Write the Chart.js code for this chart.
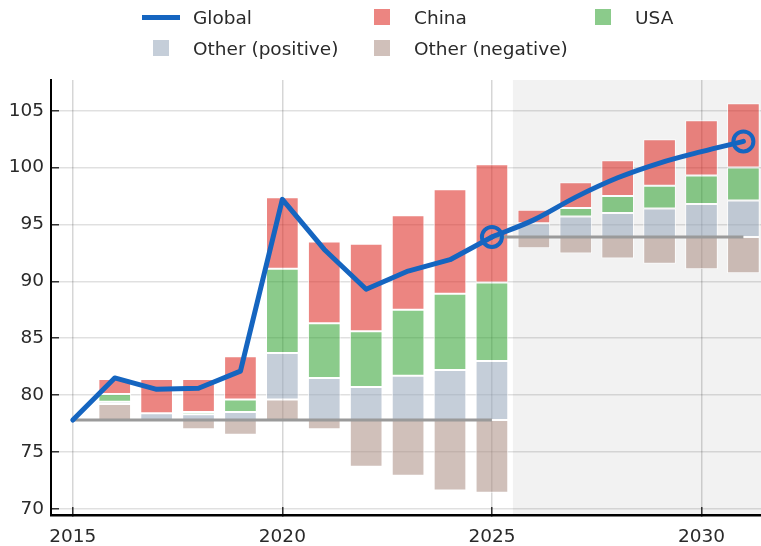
<!DOCTYPE html>
<html>
<head>
<meta charset="utf-8">
<script src="https://cdn.jsdelivr.net/npm/chart.js@4.4.1/dist/chart.umd.min.js"></script>
<style>
  html, body { margin: 0; padding: 0; background: #fff; }
  #wrap { position: relative; width: 761px; height: 546px; font-family: "DejaVu Sans", Verdana, sans-serif; }
  #legend { position: absolute; left: 142px; top: 6px; display: grid; grid-template-columns: 221px 221px 140px; row-gap: 9px; }
  .item { display: flex; align-items: center; height: 22px; font-size: 18.5px; color: #2a2a2a; white-space: nowrap; }
  .sym { width: 38px; display: flex; justify-content: center; margin-right: 13px; }
  .sym .line { width: 38px; height: 5px; }
  .sym .box { width: 16px; height: 16px; }
</style>
</head>
<body>
<div id="wrap">
  <canvas id="chart" width="761" height="546"></canvas>
  <div id="legend"></div>
</div>
<script>
const years = [2015, 2016, 2017, 2018, 2019, 2020, 2021, 2022, 2023, 2024, 2025, 2026, 2027, 2028, 2029, 2030, 2031];
const globalIndex = [77.8, 81.5, 80.5, 80.6, 82.1, 97.2, 92.8, 89.3, 90.9, 91.9, 93.9, 95.4, 97.4, 99.1, 100.4, 101.4, 102.3];
const baseline = [77.8, 77.8, 77.8, 77.8, 77.8, 77.8, 77.8, 77.8, 77.8, 77.8, 77.8, 93.9, 93.9, 93.9, 93.9, 93.9, 93.9];
// contributions relative to the baseline of each year
const china = [0, 1.3, 3.0, 2.9, 3.8, 6.3, 7.2, 7.7, 8.3, 9.2, 10.4, 1.2, 2.25, 3.15, 4.1, 4.85, 5.65];
const usa = [0, 0.7, 0, 0.2, 1.1, 7.4, 4.8, 4.9, 5.8, 6.7, 6.9, 0, 0.75, 1.5, 2.0, 2.5, 2.9];
const otherPos = [0, 0.2, 0.6, 0.5, 0.7, 4.1, 3.7, 2.9, 3.9, 4.4, 5.2, 1.2, 1.8, 2.1, 2.5, 2.9, 3.2];
const otherNeg = [0, 1.4, 0, -0.8, -1.3, 1.8, -0.8, -4.1, -4.9, -6.2, -6.4, -1.0, -1.45, -1.9, -2.35, -2.85, -3.2];
const xTicks = [2015, 2020, 2025, 2030];
const yTicks = [70, 75, 80, 85, 90, 95, 100, 105];
const lastActual = 2025;
const projStart = 2025.5;

const blue = '#1565c0';
const colChina = 'rgba(222, 45, 38, 0.58)';
const colUsa = 'rgba(44, 160, 44, 0.55)';
const colPos = 'rgba(150, 165, 185, 0.55)';
const colNeg = 'rgba(170, 140, 130, 0.55)';
const font = { family: '"DejaVu Sans", Verdana, sans-serif', size: 18.5 };

// relative stacking: positives go up from the baseline, negatives go down
const parts = [otherNeg, otherPos, usa, china];
const ranges = parts.map(() => []);
years.forEach((yr, i) => {
  let up = baseline[i], down = baseline[i];
  parts.forEach((vals, k) => {
    const v = vals[i];
    if (v > 0) { ranges[k].push({ x: yr, y: [up, up + v] }); up += v; }
    else if (v < 0) { ranges[k].push({ x: yr, y: [down + v, down] }); down += v; }
  });
});

const split = years.indexOf(lastActual);
const histPts = years.slice(0, split + 1).map((x, i) => ({ x, y: globalIndex[i] }));
const projPts = years.slice(split).map((x, i) => ({ x, y: globalIndex[split + i] }));
const ringAtEnd = pts => pts.map((_, i) => (i === pts.length - 1 ? 10 : 0));

const barStyle = (label, color, data) => ({
  type: 'bar', label, data, backgroundColor: color,
  borderColor: 'rgba(255,255,255,0.75)', borderWidth: 1, borderSkipped: false,
  grouped: false, barPercentage: 0.78, categoryPercentage: 1
});
const lineStyle = (label, data, tension) => ({
  type: 'line', label, data, borderColor: blue, borderWidth: 5, tension,
  borderCapStyle: 'round', borderJoinStyle: 'round',
  pointRadius: ringAtEnd(data), pointBorderWidth: 4, pointBorderColor: blue,
  pointBackgroundColor: 'rgba(0,0,0,0)'
});

// grey band behind the projected years
const shade = {
  id: 'shade',
  beforeDraw(chart) {
    const { ctx, chartArea, scales } = chart;
    const x0 = scales.x.getPixelForValue(projStart);
    ctx.save();
    ctx.fillStyle = '#f2f2f2';
    ctx.fillRect(x0, chartArea.top, chartArea.right - x0, chartArea.bottom - chartArea.top);
    ctx.restore();
  }
};

const chart = new Chart(document.getElementById('chart'), {
  type: 'bar',
  data: {
    datasets: [
      lineStyle('Global', histPts, 0),
      lineStyle('Global (projection)', projPts, 0.35),
      { type: 'line', label: 'base1', data: [{ x: years[0], y: baseline[0] }, { x: years[split], y: baseline[split] }],
        borderColor: '#9a9a9a', borderWidth: 3, pointRadius: 0 },
      { type: 'line', label: 'base2', data: [{ x: years[split], y: baseline[split + 1] }, { x: years[years.length - 1], y: baseline[years.length - 1] }],
        borderColor: '#9a9a9a', borderWidth: 3, pointRadius: 0 },
      barStyle('China', colChina, ranges[3]),
      barStyle('USA', colUsa, ranges[2]),
      barStyle('Other (positive)', colPos, ranges[1]),
      barStyle('Other (negative)', colNeg, ranges[0])
    ]
  },
  options: {
    responsive: false,
    animation: false,
    devicePixelRatio: 1,
    layout: { autoPadding: false, padding: { top: 80, left: 0, right: 0, bottom: 0 } },
    plugins: { legend: { display: false }, tooltip: { enabled: false } },
    scales: {
      x: {
        type: 'linear', min: 2014.48, max: 2031.42, offset: false,
        grid: { color: 'rgba(0,0,0,0.16)', lineWidth: 1.5, offset: false, tickLength: -8, tickColor: '#333', tickWidth: 1.5 },
        border: { color: '#000', width: 2.5 },
        afterBuildTicks: s => { s.ticks = xTicks.map(v => ({ value: v })); },
        afterFit: s => { s.height = 31; s.paddingLeft = 0; s.paddingRight = 0; },
        ticks: { font, color: '#2a2a2a', padding: 19, maxRotation: 0, callback: v => String(v) }
      },
      y: {
        min: 69.45, max: 107.7,
        grid: { color: 'rgba(0,0,0,0.12)', lineWidth: 1.5, tickLength: -8, tickColor: '#333', tickWidth: 1.5 },
        border: { color: '#000', width: 2 },
        afterBuildTicks: s => { s.ticks = yTicks.map(v => ({ value: v })); },
        afterFit: s => { s.width = 51; s.paddingTop = 0; s.paddingBottom = 0; },
        ticks: { font, color: '#2a2a2a', padding: 15 }
      }
    }
  },
  plugins: [shade]
});

// legend laid out in three columns like the original
const legendItems = [
  { label: 'Global', line: blue },
  { label: 'China', box: colChina },
  { label: 'USA', box: colUsa },
  { label: 'Other (positive)', box: colPos },
  { label: 'Other (negative)', box: colNeg }
];
const legend = document.getElementById('legend');
legendItems.forEach(it => {
  const el = document.createElement('div');
  el.className = 'item';
  const sym = it.line
    ? `<span class="line" style="background:${it.line}"></span>`
    : `<span class="box" style="background:${it.box}"></span>`;
  el.innerHTML = `<span class="sym">${sym}</span><span>${it.label}</span>`;
  legend.appendChild(el);
});
</script>
</body>
</html>
